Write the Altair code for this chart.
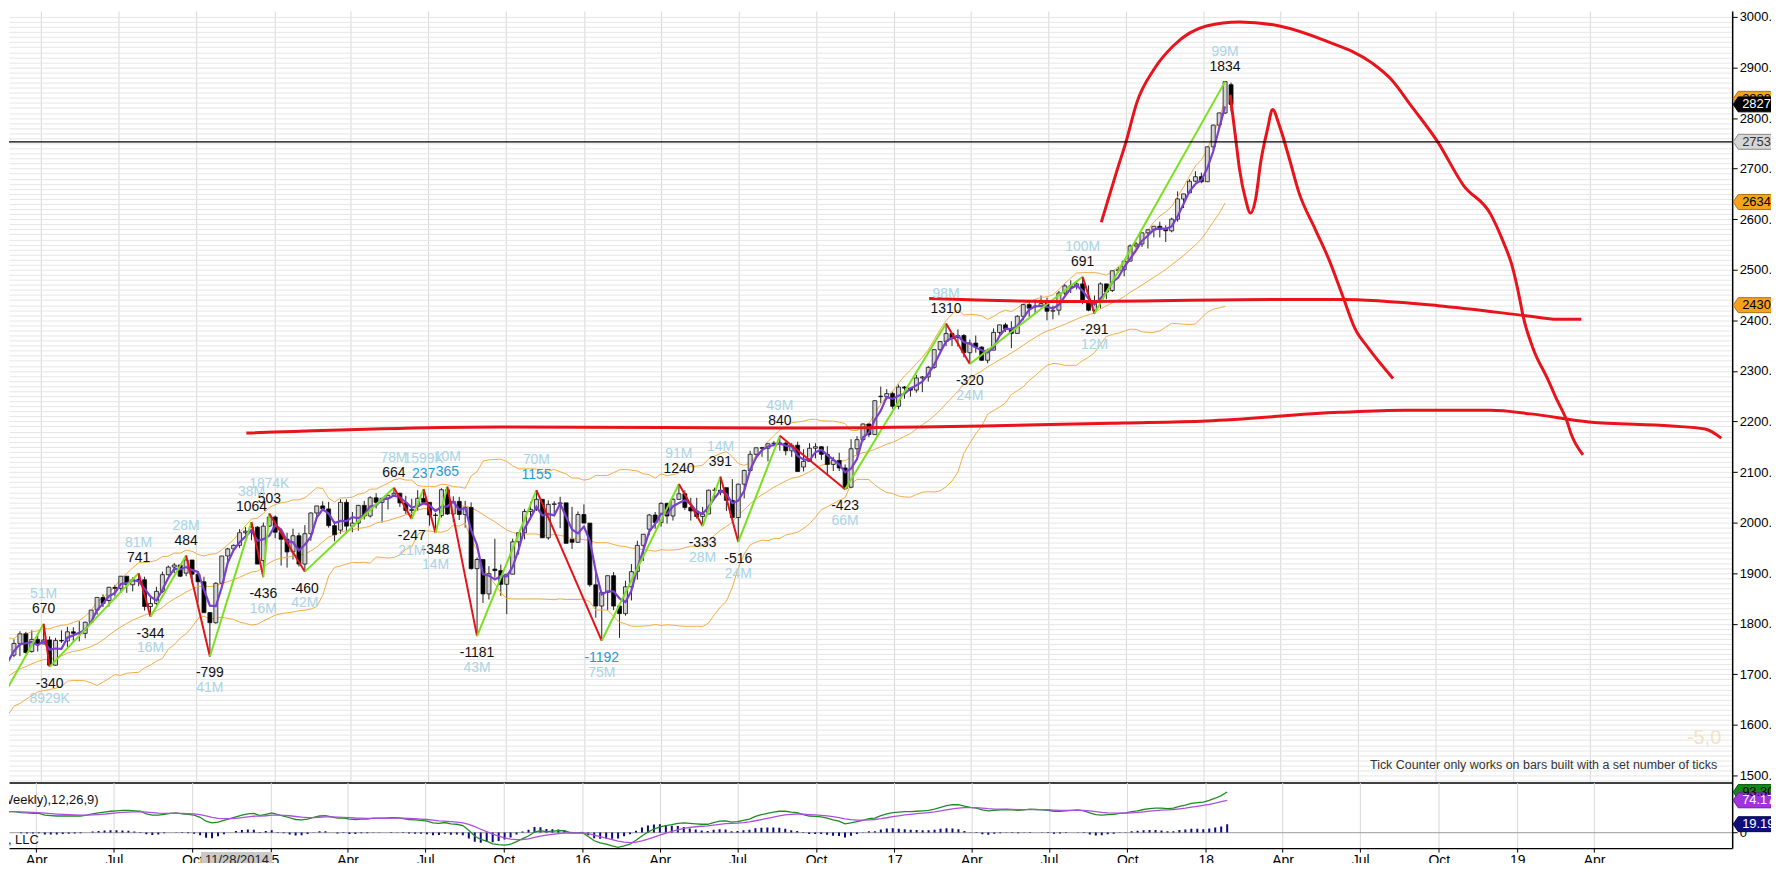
import altair as alt
import pandas as pd

# ---------------- data (weekly bars, week-ending Friday) ----------------
# closes before the visible window (used only for the 20-week bands)
pre_closes = [1599, 1641, 1656, 1658, 1667, 1694, 1701, 1702, 1701, 1671,
              1719, 1742, 1732, 1743, 1740, 1691, 1684, 1698, 1740, 1737]

opens = [1738, 1761, 1780, 1745, 1769, 1760, 1768, 1718, 1767, 1766,
         1784, 1781, 1781, 1803, 1827, 1852, 1846, 1872, 1870, 1894,
         1877, 1887, 1887, 1834, 1840, 1864, 1897, 1912, 1916, 1900,
         1926, 1898, 1883, 1822, 1802, 1880, 1934, 1948, 1955, 1980,
         1983, 1991, 1925, 1993, 2011, 1981, 1967, 1942, 1974, 1918,
         1978, 2019, 2033, 2027, 1994, 1985, 2040, 1993, 1999, 2034,
         2013, 2049, 2040, 2048, 2054, 2058, 2039, 2024, 2032, 2048,
         2040, 2015, 2014, 2065, 2017, 2042, 2016, 2030, 1909, 1927,
         1859, 1908, 1905, 1878, 1898, 1962, 1980, 2022, 2026, 2046,
         1970, 2036, 2037, 2039, 1967, 1961, 2016, 1999, 1877, 1835,
         1862, 1895, 1835, 1820, 1873, 1903, 1955, 1987, 2015, 2000,
         2038, 2013, 2046, 2057, 2030, 2023, 2012, 2017, 2064, 2064,
         2069, 2044, 2010, 2076, 2103, 2135, 2148, 2147, 2156, 2157,
         2157, 2142, 2153, 2110, 2121, 2147, 2150, 2135, 2115, 2123,
         2108, 2070, 2146, 2164, 2195, 2174, 2250, 2249, 2255, 2230,
         2268, 2266, 2262, 2286, 2288, 2307, 2342, 2358, 2374, 2366,
         2370, 2336, 2355, 2347, 2321, 2341, 2376, 2391, 2383, 2374,
         2408, 2431, 2427, 2428, 2433, 2418, 2420, 2454, 2468, 2467,
         2472, 2436, 2420, 2438, 2472, 2459, 2498, 2500, 2517, 2547,
         2551, 2573, 2579, 2586, 2580, 2577, 2600, 2640, 2652, 2675,
         2684, 2674, 2743, 2786, 2810, 2866]

highs = [1769, 1785, 1784, 1787, 1778, 1800, 1775, 1772, 1787, 1794,
         1793, 1805, 1804, 1827, 1852, 1858, 1873, 1877, 1894, 1894,
         1892, 1900, 1893, 1851, 1873, 1903, 1915, 1920, 1917, 1935,
         1926, 1901, 1893, 1822, 1882, 1934, 1950, 1957, 1987, 1991,
         2001, 1993, 2000, 2018, 2014, 1987, 1980, 1988, 1980, 1995,
         2020, 2033, 2042, 2041, 2003, 2046, 2046, 2021, 2035, 2043,
         2052, 2058, 2049, 2055, 2069, 2059, 2053, 2047, 2064, 2066,
         2040, 2019, 2068, 2071, 2052, 2051, 2043, 2040, 1931, 1927,
         1914, 1968, 1917, 1898, 1968, 1981, 2027, 2041, 2064, 2046,
         2044, 2042, 2051, 2039, 2031, 2022, 2036, 1999, 1905, 1863,
         1895, 1902, 1836, 1885, 1918, 1964, 1977, 2017, 2021, 2040,
         2039, 2049, 2076, 2064, 2049, 2049, 2031, 2065, 2069, 2091,
         2069, 2086, 2077, 2105, 2142, 2148, 2150, 2156, 2161, 2172,
         2160, 2157, 2160, 2145, 2157, 2157, 2151, 2151, 2130, 2138,
         2115, 2165, 2171, 2196, 2196, 2242, 2269, 2264, 2259, 2273,
         2270, 2267, 2292, 2290, 2310, 2343, 2358, 2393, 2375, 2382,
         2373, 2362, 2370, 2349, 2344, 2384, 2391, 2395, 2398, 2410,
         2432, 2438, 2441, 2449, 2445, 2429, 2458, 2472, 2479, 2475,
         2486, 2469, 2449, 2475, 2472, 2498, 2506, 2517, 2550, 2555,
         2573, 2580, 2586, 2595, 2588, 2603, 2655, 2650, 2679, 2695,
         2692, 2744, 2787, 2811, 2872, 2870]

lows = [1734, 1736, 1741, 1743, 1745, 1760, 1715, 1717, 1762, 1754,
        1762, 1765, 1771, 1803, 1818, 1833, 1834, 1854, 1861, 1861,
        1864, 1874, 1826, 1814, 1837, 1861, 1895, 1900, 1892, 1894,
        1880, 1842, 1821, 1735, 1800, 1878, 1918, 1946, 1950, 1976,
        1965, 1918, 1892, 1992, 1969, 1915, 1911, 1927, 1913, 1903,
        1964, 2008, 2026, 1990, 1963, 1978, 1978, 1981, 1984, 2006,
        2010, 2028, 2000, 2026, 2053, 2031, 2017, 2007, 2023, 2038,
        1994, 1980, 2010, 2015, 2001, 2005, 1990, 1907, 1776, 1841,
        1848, 1891, 1855, 1819, 1898, 1937, 1967, 2006, 2023, 1970,
        1966, 2017, 1989, 1959, 1948, 1960, 1999, 1873, 1812, 1766,
        1827, 1827, 1772, 1816, 1846, 1887, 1924, 1975, 1988, 1992,
        1998, 2004, 2045, 2025, 2004, 2008, 1993, 2017, 2049, 2054,
        2023, 2006, 1962, 2048, 2103, 2128, 2130, 2121, 2151, 2142,
        2133, 2130, 2101, 2101, 2121, 2127, 2124, 2096, 2102, 2102,
        2066, 2068, 2133, 2160, 2169, 2174, 2236, 2243, 2225, 2224,
        2245, 2249, 2257, 2258, 2279, 2304, 2339, 2349, 2349, 2348,
        2327, 2314, 2336, 2320, 2315, 2341, 2372, 2377, 2345, 2374,
        2400, 2407, 2413, 2426, 2400, 2402, 2410, 2450, 2454, 2461,
        2432, 2418, 2413, 2423, 2442, 2456, 2494, 2487, 2517, 2540,
        2545, 2542, 2564, 2564, 2555, 2574, 2595, 2622, 2651, 2673,
        2671, 2674, 2737, 2778, 2808, 2813]

closes = [1761, 1780, 1743, 1769, 1760, 1768, 1718, 1767, 1766, 1784,
          1781, 1781, 1803, 1827, 1852, 1840, 1872, 1870, 1894, 1877,
          1887, 1887, 1834, 1840, 1864, 1897, 1912, 1916, 1894, 1926,
          1898, 1883, 1822, 1802, 1880, 1934, 1948, 1955, 1980, 1983,
          1991, 1918, 1993, 2011, 1981, 1967, 1942, 1974, 1918, 1978,
          2019, 2033, 2027, 1994, 1976, 2040, 1993, 1999, 2034, 2013,
          2049, 2040, 2048, 2054, 2058, 2039, 2024, 2026, 2048, 2040,
          2015, 2014, 2065, 2017, 2042, 2016, 2030, 1909, 1927, 1859,
          1899, 1905, 1878, 1898, 1962, 1980, 2022, 2026, 2046, 1970,
          2036, 2037, 2039, 1959, 1961, 2016, 1999, 1877, 1835, 1862,
          1895, 1835, 1820, 1873, 1903, 1955, 1977, 2015, 2000, 2038,
          2013, 2046, 2057, 2030, 2023, 2012, 2017, 2064, 2064, 2061,
          2044, 2010, 2076, 2103, 2135, 2148, 2147, 2156, 2157, 2157,
          2142, 2153, 2101, 2121, 2147, 2150, 2135, 2115, 2123, 2108,
          2067, 2146, 2164, 2195, 2174, 2241, 2249, 2255, 2230, 2268,
          2266, 2262, 2286, 2288, 2307, 2342, 2358, 2374, 2364, 2370,
          2336, 2355, 2347, 2321, 2341, 2376, 2391, 2383, 2374, 2408,
          2431, 2424, 2428, 2433, 2418, 2420, 2454, 2468, 2467, 2472,
          2436, 2420, 2438, 2472, 2456, 2498, 2500, 2517, 2547, 2551,
          2573, 2579, 2586, 2580, 2577, 2600, 2640, 2650, 2675, 2684,
          2674, 2743, 2786, 2810, 2872, 2827]

# MACD(12,26,9) line and signal, completed bars only
macd_line = [48, 48, 46, 45, 44, 44, 40, 39, 38, 38,
             38, 38, 38, 40, 43, 45, 47, 49, 50, 51,
             51, 50, 49, 43, 40, 40, 42, 44, 45, 43,
             42, 40, 35, 26, 22, 24, 28, 32, 36, 40,
             43, 44, 39, 42, 45, 41, 38, 34, 30, 29,
             31, 35, 38, 39, 36, 33, 34, 31, 30, 31,
             31, 33, 33, 33, 34, 34, 32, 30, 29, 28,
             26, 22, 21, 23, 20, 19, 16, 5, -8, -16,
             -20, -26, -28, -29, -27, -21, -14, -8, 1, 4,
             2, 3, 4, 4, 0, -1, 0, -9, -19, -24,
             -27, -31, -34, -31, -27, -18, -8, 1, 8, 13,
             16, 18, 21, 22, 21, 20, 19, 19, 23, 26,
             27, 24, 25, 28, 31, 37, 41, 44, 47, 49,
             49, 47, 46, 41, 38, 37, 36, 33, 29, 26,
             20, 22, 25, 28, 32, 33, 39, 43, 46, 47,
             48, 48, 49, 50, 51, 54, 58, 62, 64, 64,
             61, 58, 56, 52, 50, 51, 52, 53, 52, 51,
             52, 54, 53, 52, 51, 49, 49, 50, 51, 52,
             50, 45, 41, 40, 41, 42, 44, 45, 48, 50,
             53, 55, 56, 56, 55, 56, 60, 63, 67, 69,
             70, 74, 79, 85, 93.3]

signal_line = [48.0, 48.0, 47.6, 47.1, 46.5, 46.0, 44.8, 43.6, 42.5, 41.6,
               40.9, 40.3, 39.8, 39.9, 40.5, 41.4, 42.5, 43.8, 45.0, 46.2,
               47.2, 47.7, 48.0, 47.0, 45.6, 44.5, 44.0, 44.0, 44.2, 44.0,
               43.6, 42.9, 41.3, 38.2, 35.0, 32.8, 31.8, 31.9, 32.7, 34.2,
               35.9, 37.5, 37.8, 38.6, 39.9, 40.1, 39.7, 38.6, 36.9, 35.3,
               34.4, 34.5, 35.2, 36.0, 36.0, 35.4, 35.1, 34.3, 33.4, 32.9,
               32.5, 32.6, 32.7, 32.8, 33.0, 33.2, 33.0, 32.4, 31.7, 31.0,
               30.0, 28.4, 26.9, 26.1, 24.9, 23.7, 22.2, 18.8, 13.4, 7.5,
               2.0, -3.6, -8.5, -12.6, -15.5, -16.6, -16.1, -14.5, -11.4, -8.3,
               -6.2, -4.4, -2.7, -1.4, -1.1, -1.1, -0.9, -2.5, -5.8, -9.4,
               -12.9, -16.5, -20.0, -22.2, -23.2, -22.2, -19.4, -15.3, -10.6, -5.9,
               -1.5, 2.4, 6.1, 9.3, 11.6, 13.3, 14.4, 15.3, 16.8, 18.6,
               20.3, 21.0, 21.8, 23.0, 24.6, 27.1, 29.9, 32.7, 35.6, 38.3,
               40.4, 41.7, 42.6, 42.3, 41.4, 40.5, 39.6, 38.3, 36.4, 34.3,
               31.4, 29.5, 28.6, 28.5, 29.2, 30.0, 31.8, 34.0, 36.4, 38.5,
               40.4, 41.9, 43.3, 44.6, 45.9, 47.5, 49.6, 52.1, 54.5, 56.4,
               57.3, 57.4, 57.1, 56.1, 54.9, 54.1, 53.7, 53.6, 53.3, 52.8,
               52.6, 52.9, 52.9, 52.7, 52.4, 51.7, 51.2, 51.0, 51.0, 51.2,
               51.0, 49.8, 48.0, 46.4, 45.3, 44.6, 44.5, 44.6, 45.3, 46.2,
               47.6, 49.1, 50.5, 51.6, 52.3, 53.0, 54.4, 56.1, 58.3, 60.4,
               62.3, 64.6, 67.5, 71.0, 74.17]

# zig-zag swing points
piv_dates = ["2014-02-07", "2014-04-04", "2014-04-11", "2014-07-25", "2014-08-08",
             "2014-09-19", "2014-10-17", "2014-12-05", "2014-12-19", "2014-12-26",
             "2015-02-06", "2015-05-22", "2015-06-12", "2015-06-26", "2015-07-10",
             "2015-07-24", "2015-08-28", "2015-11-06", "2016-01-22", "2016-04-22",
             "2016-05-20", "2016-06-10", "2016-07-01", "2016-08-19", "2016-11-04",
             "2017-03-03", "2017-03-31", "2017-08-11", "2017-08-25", "2018-01-26"]
piv_prices = [1632.25, 1799.75, 1714.75, 1900, 1814,
              1935, 1735.25, 2001.25, 1892.25, 2018,
              1903, 2069, 2007.25, 2066.5, 1979.5,
              2070.75, 1775.5, 2064.25, 1766.25, 2076.25,
              1993, 2090.75, 1961.75, 2171.75, 2066,
              2393.5, 2313.5, 2486, 2413.5, 2872]
piv_ticks = ["", "670", "-340", "741", "-344",
             "484", "-799", "1064", "-436", "503",
             "-460", "664", "-247", "237", "-348",
             "365", "-1181", "1155", "-1192", "1240",
             "-333", "391", "-516", "840", "-423",
             "1310", "-320", "691", "-291", "1834"]
piv_vols = ["", "51M", "8929K", "81M", "16M",
            "28M", "41M", "38M", "16M", "1874K",
            "42M", "78M", "21M", "1599K", "14M",
            "10M", "43M", "70M", "75M", "91M",
            "28M", "14M", "24M", "49M", "66M",
            "98M", "24M", "100M", "12M", "99M"]
piv_highlight = ["237", "365", "1155", "-1192"]

# hand-drawn red projection lines
red1_dates = ["2014-11-29", "2015-09-25", "2016-09-09", "2017-09-29", "2018-01-04",
              "2018-06-10", "2018-08-25", "2018-12-05", "2019-01-21", "2019-03-31",
              "2019-07-06", "2019-08-15", "2019-09-03"]
red1_prices = [2177, 2189, 2187, 2197, 2201, 2218, 2222, 2222, 2215, 2199, 2191, 2185, 2167]
red2_dates = ["2017-09-02", "2017-09-21", "2017-10-01", "2017-10-14", "2017-11-03",
              "2017-11-26", "2018-01-04", "2018-02-12", "2018-03-31", "2018-05-24",
              "2018-07-18", "2018-08-10", "2018-09-02", "2018-10-04", "2018-11-03",
              "2018-12-05", "2018-12-20", "2018-12-30", "2019-01-09", "2019-01-12",
              "2019-01-24", "2019-02-10", "2019-02-22", "2019-03-05", "2019-03-10",
              "2019-03-24"]
red2_prices = [2594, 2699, 2752, 2831, 2896, 2943, 2982, 2990, 2982, 2953,
               2909, 2876, 2825, 2752, 2667, 2610, 2555, 2510, 2437, 2411,
               2345, 2285, 2240, 2201, 2175, 2134]
red3_dates = ["2018-02-01", "2018-02-07", "2018-02-12", "2018-02-19", "2018-02-25",
              "2018-03-03", "2018-03-09", "2018-03-17", "2018-03-23", "2018-03-31",
              "2018-04-12", "2018-04-23", "2018-05-12", "2018-05-28", "2018-06-13",
              "2018-06-28", "2018-07-14", "2018-08-12"]
red3_prices = [2846, 2766, 2699, 2640, 2612, 2640, 2713, 2778, 2817, 2785,
               2718, 2653, 2581, 2522, 2451, 2384, 2345, 2285]
red4_dates = ["2017-02-11", "2017-08-01", "2018-03-23", "2018-06-10", "2018-10-04",
              "2019-01-21", "2019-02-21", "2019-03-22"]
red4_prices = [2443, 2437, 2441, 2441, 2429, 2408, 2402, 2402]

drawn_level = 2753
price_tags = [2838, 2827, 2753, 2634, 2430]
macd_tags = [93.30, 74.17, 19.19]
cursor_date = "11/28/2014"

quarters = [(2014, 4), (2014, 7), (2014, 10)] + \
    [(y, m) for y in range(2015, 2019) for m in (1, 4, 7, 10)] + [(2019, 1), (2019, 4)]

# ---------------- tables ----------------
FONT = "Liberation Sans"
GREEN_ZZ, RED_ZZ = "#78e01c", "#e3131b"

pre_dates = pd.date_range("2013-10-11", periods=len(pre_closes), freq="7D")
dates = pd.date_range("2014-02-28", periods=len(closes), freq="7D")
bars = pd.DataFrame({"d": dates, "o": opens, "h": highs, "l": lows, "c": closes})
ind = pd.DataFrame({"d": list(pre_dates) + list(dates[:-1]),
                    "c": pre_closes + closes[:-1]})
mac = pd.DataFrame({"d": dates[:len(macd_line)], "m": macd_line, "s": signal_line})

piv = pd.DataFrame({"d": pd.to_datetime(piv_dates), "p": piv_prices,
                    "tick": piv_ticks, "vol": piv_vols})
kinds = []
for i, p in enumerate(piv_prices):
    ref = piv_prices[i + 1] if i == 0 else piv_prices[i - 1]
    kinds.append("H" if p > ref else "L")
piv["kind"] = kinds
piv["tcol"] = ["#1d9bd6" if t in piv_highlight else "#111111" for t in piv_ticks]
piv_lab = piv[piv["tick"] != ""]

seg_rows = []
for i in range(len(piv_prices) - 1):
    col = GREEN_ZZ if piv_prices[i + 1] > piv_prices[i] else RED_ZZ
    for j in (i, i + 1):
        seg_rows.append({"seg": i, "d": piv_dates[j], "p": piv_prices[j], "col": col})
seg = pd.DataFrame(seg_rows)
seg["d"] = pd.to_datetime(seg["d"])

hand = pd.concat([
    pd.DataFrame({"curve": k, "d": pd.to_datetime(ds), "p": ps})
    for k, (ds, ps) in enumerate([(red1_dates, red1_prices), (red2_dates, red2_prices),
                                  (red3_dates, red3_prices), (red4_dates, red4_prices)])
])

tags = pd.DataFrame({
    "p": price_tags,
    "label": [str(v) for v in price_tags],
    "fill": ["#f5a31d", "#000000", "#d6d6d6", "#f5a31d", "#f5a31d"],
    "stroke": ["#b07010", "#000000", "#888888", "#b07010", "#b07010"],
    "tc": ["#000000", "#ffffff", "#333333", "#000000", "#000000"],
})
mtags = pd.DataFrame({
    "p": macd_tags,
    "label": ["%.2f" % v for v in macd_tags],
    "fill": ["#14871a", "#a034dc", "#0e0e7c"],
    "stroke": ["#0b5e10", "#6a1c9a", "#05054a"],
    "tc": ["#000000", "#ffffff", "#ffffff"],
})

# ---------------- scales / axes ----------------
W, H_MAIN, H_MACD = 1731, 775, 66
xscale = alt.Scale(domain=[alt.DateTime(year=2014, month=2, date=28),
                           alt.DateTime(year=2019, month=9, date=10)])
yscale = alt.Scale(domain=[1486.2, 3011.8], nice=False, zero=False)
mscale = alt.Scale(domain=[-36, 115.4], nice=False, zero=False)
xticks = [alt.DateTime(year=y, month=m, date=1) for (y, m) in quarters]
LBL = "month(datum.value) == 0 ? timeFormat(datum.value, '%y') : timeFormat(datum.value, '%b')"

xaxis_main = alt.Axis(values=xticks, grid=True, gridColor="#d8d8d8", labels=False, ticks=False,
                      domain=True, domainColor="#000000", domainWidth=1.5, title=None)
yaxis_main = alt.Axis(orient="right", values=list(range(1490, 3001, 10)), grid=True,
                      gridColor="#e6e6e6",
                      labelExpr="datum.value % 100 === 0 ? datum.value + '.' : ''",
                      labelOverlap=False, labelFontSize=13, labelColor="#000000",
                      labelPadding=2, tickSize=5, tickColor="#000000",
                      tickOpacity={"condition": {"test": "datum.value % 100 === 0", "value": 1},
                                   "value": 0},
                      domainColor="#000000", domainWidth=1.5, title=None)
xaxis_macd = alt.Axis(values=xticks, grid=True, gridColor="#d8d8d8", labelExpr=LBL,
                      labelFontSize=14, labelColor="#000000", labelPadding=1, tickSize=4,
                      tickColor="#000000", domainColor="#000000", domainWidth=1.5,
                      labelOverlap=False, labelFlush=False, title=None)
yaxis_macd = alt.Axis(orient="right", values=[0], grid=True, gridColor="#9b9b9b",
                      labelFontSize=13, labelColor="#000000", tickSize=5, tickColor="#000000",
                      domainColor="#000000", domainWidth=1.5, labelPadding=2, title=None)


def X(f="d", ax=xaxis_main):
    return alt.X(f"{f}:T", scale=xscale, axis=ax)


def Y(f, sc=yscale, ax=yaxis_main):
    return alt.Y(f"{f}:Q", scale=sc, axis=ax)


def XM(f="d"):
    return X(f, xaxis_macd)


def YM(f):
    return Y(f, mscale, yaxis_macd)


one = pd.DataFrame({"k": [0]})
TAG_PATH = "M-1,0L-0.74,-0.385L1,-0.385L1,0.385L-0.74,0.385Z"

# ---------------- main price panel ----------------
bands = alt.Chart(ind).transform_window(
    sma="mean(c)", sd="stdevp(c)", frame=[-19, 0], sort=[alt.SortField("d")]
).transform_calculate(
    upper="datum.sma + 2*datum.sd", lower="datum.sma - 2*datum.sd"
).transform_fold(["upper", "sma", "lower"], as_=["band", "v"]).mark_line(
    color="#f1ac45", strokeWidth=1, clip=True
).encode(x=X(), y=Y("v"), detail="band:N")

wicks = alt.Chart(bars).mark_rule(color="#222222", strokeWidth=1, clip=True).encode(
    x=X(), y=Y("l"), y2="h:Q")

bodies = alt.Chart(bars).mark_bar(size=4, stroke="#111111", strokeWidth=0.8, clip=True).encode(
    x=X(), y=Y("o"), y2="c:Q",
    fill=alt.condition("datum.c >= datum.o", alt.value("#d2d2d2"), alt.value("#000000")))

ma = alt.Chart(ind).transform_window(
    ma="mean(c)", frame=[-2, 0], sort=[alt.SortField("d")]
).mark_line(color="#7a3fd0", strokeWidth=2.2, clip=True).encode(x=X(), y=Y("ma"))

zigzag = alt.Chart(seg).mark_line(strokeWidth=2, clip=True).encode(
    x=X(), y=Y("p"), detail="seg:N", color=alt.Color("col:N", scale=None))

redlines = alt.Chart(hand).mark_line(color="#e8131b", strokeWidth=3, interpolate="monotone",
                                     clip=True).encode(x=X(), y=Y("p"), detail="curve:N")

level = alt.Chart(pd.DataFrame({"p": [drawn_level]})).mark_rule(
    color="#000000", strokeWidth=1.3).encode(y=Y("p"))


def piv_text(kind, field, dy, color=None):
    enc = dict(x=X(), y=Y("p"), text=f"{field}:N")
    if color is None:
        enc["color"] = alt.Color("tcol:N", scale=None)
    ch = alt.Chart(piv_lab).transform_filter(f"datum.kind == '{kind}'").mark_text(
        dy=dy, fontSize=14, font=FONT, **({"color": color} if color else {}))
    return ch.encode(**enc)


labels = [piv_text("H", "tick", -15), piv_text("H", "vol", -30, "#a9d4e6"),
          piv_text("L", "tick", 17), piv_text("L", "vol", 32, "#a9d4e6")]

tick_note = alt.Chart(one).mark_text(
    text="Tick Counter only works on bars built with a set number of ticks",
    align="right", fontSize=12.5, font=FONT, color="#333333"
).encode(x=alt.value(1716), y=alt.value(758))
tick_val = alt.Chart(one).mark_text(text="-5,0", align="right", fontSize=20, font=FONT,
                                    color="#f2e2c4").encode(x=alt.value(1720), y=alt.value(730))

tag_shapes = alt.Chart(tags).mark_point(shape=TAG_PATH, filled=True, size=1521, opacity=1,
                                        strokeWidth=1).encode(
    x=alt.value(1751.5), y=Y("p"), fill=alt.Color("fill:N", scale=None),
    stroke=alt.Color("stroke:N", scale=None))
tag_text = alt.Chart(tags).mark_text(align="left", fontSize=13, font=FONT).encode(
    x=alt.value(1741), y=Y("p"), text="label:N", color=alt.Color("tc:N", scale=None))

main = alt.layer(wicks, bands, bodies, ma, zigzag, redlines, level, *labels,
                 tick_note, tick_val, tag_shapes, tag_text).properties(width=W, height=H_MAIN)

# ---------------- MACD panel ----------------
hist = alt.Chart(mac).transform_calculate(h="datum.m - datum.s", z="0").mark_rule(
    color="#0b0b7d", strokeWidth=2, clip=True).encode(x=XM(), y=YM("h"), y2="z:Q")
mline = alt.Chart(mac).mark_line(color="#1f8c22", strokeWidth=1.3, clip=True).encode(
    x=XM(), y=YM("m"))
sline = alt.Chart(mac).mark_line(color="#ad4ee0", strokeWidth=1.3, clip=True).encode(
    x=XM(), y=YM("s"))
mtitle = alt.Chart(one).mark_text(text="MACD(ES 03-18 (Weekly),12,26,9)", align="right",
                                  fontSize=13, font=FONT, color="#111111", clip=True).encode(
    x=alt.value(90), y=alt.value(18))
copy = alt.Chart(one).mark_text(text="© 2018 NinjaTrader, LLC", align="right", fontSize=13,
                                font=FONT, color="#111111", clip=True).encode(
    x=alt.value(30), y=alt.value(58))
mtag_shapes = alt.Chart(mtags).mark_point(shape=TAG_PATH, filled=True, size=1521, opacity=1,
                                          strokeWidth=1).encode(
    x=alt.value(1751.5), y=YM("p"), fill=alt.Color("fill:N", scale=None),
    stroke=alt.Color("stroke:N", scale=None))
mtag_text = alt.Chart(mtags).mark_text(align="left", fontSize=13, font=FONT).encode(
    x=alt.value(1741), y=YM("p"), text="label:N", color=alt.Color("tc:N", scale=None))
cur_box = alt.Chart(one).mark_rect(color="#c9c9c9").encode(
    x=alt.value(193), x2=alt.value(264.5), y=alt.value(70), y2=alt.value(84))
cur_txt = alt.Chart(one).mark_text(text=cursor_date, fontSize=13, font=FONT,
                                   color="#222222").encode(x=alt.value(229), y=alt.value(77.5))

macd = alt.layer(hist, mline, sline, mtitle, copy, mtag_shapes, mtag_text,
                 cur_box, cur_txt).properties(width=W, height=H_MACD)

chart = alt.vconcat(main, macd, spacing=0, bounds="flush").properties(
    padding={"left": 0, "top": 0, "right": -4, "bottom": -6}, background="white"
).configure_view(strokeWidth=0).configure_axis(labelFont=FONT).configure_text(font=FONT)

chart.save("out.html", embed_options={"renderer": "svg", "actions": False})
